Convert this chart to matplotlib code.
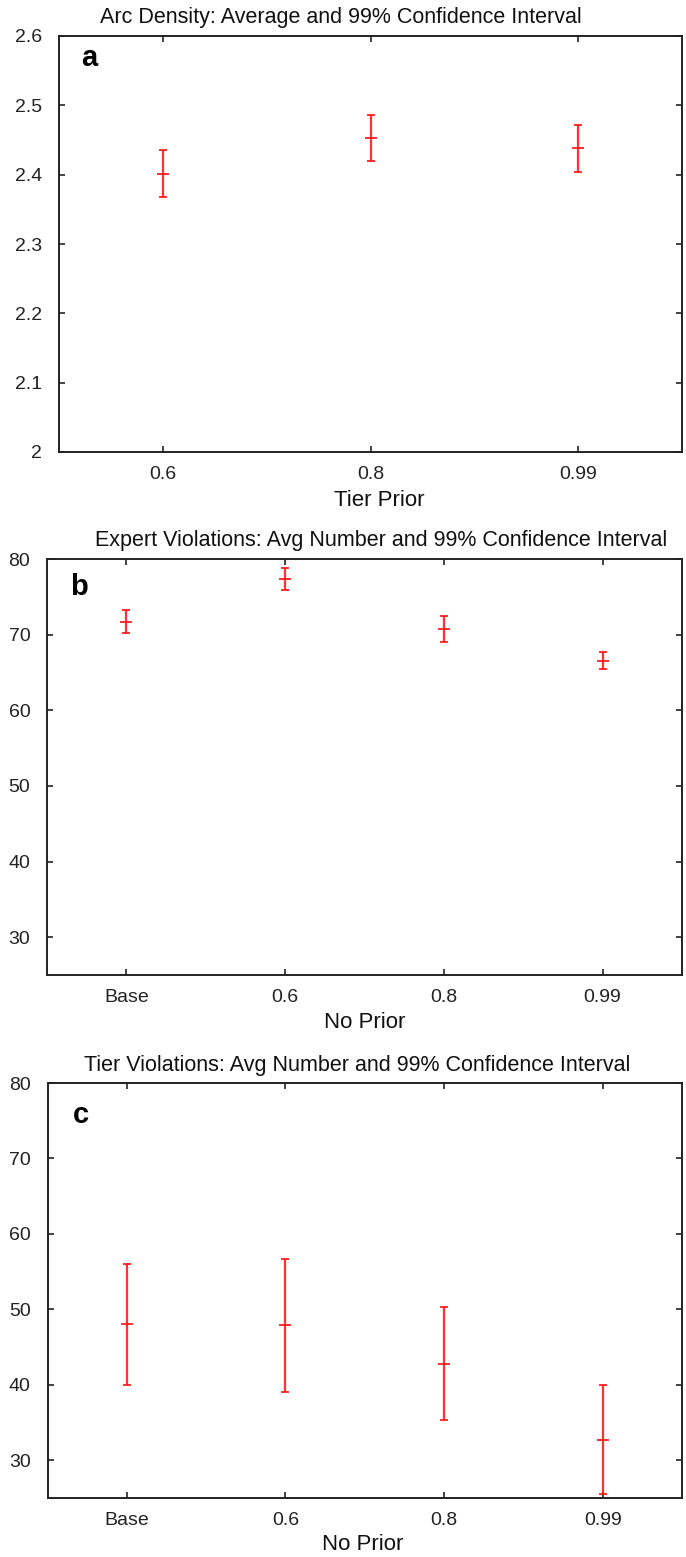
import matplotlib
matplotlib.use("Agg")
import matplotlib.pyplot as plt
import numpy as np

plt.rcParams['font.family'] = ['Liberation Sans', 'DejaVu Sans']

# panel a: arc density
a_labels = ['0.6', '0.8', '0.99']
a_mean = [2.401, 2.453, 2.438]
a_low = [2.368, 2.419, 2.404]
a_high = [2.435, 2.486, 2.472]

# panel b: expert violations
b_labels = ['Base', '0.6', '0.8', '0.99']
b_mean = [71.7, 77.4, 70.75, 66.55]
b_low = [70.2, 75.9, 69.0, 65.45]
b_high = [73.25, 78.8, 72.45, 67.65]

# panel c: tier violations
c_labels = ['Base', '0.6', '0.8', '0.99']
c_mean = [48.05, 47.9, 42.8, 32.75]
c_low = [40.0, 39.1, 35.4, 25.5]
c_high = [56.05, 56.7, 50.25, 40.0]

W, H = 686, 1557
fig = plt.figure(figsize=(W / 100, H / 100), dpi=100)


def panel(rect, labels, mean, low, high, ylim, yticks, ytl, title, title_xy,
          xlabel, xlabel_xy, letter, letter_xy):
    ax = fig.add_axes(rect)
    x = np.arange(1, len(labels) + 1)
    mean = np.array(mean)
    err = [mean - np.array(low), np.array(high) - mean]
    ax.errorbar(x, mean, yerr=err, fmt='_', color='#ff1a1a', ms=9, mew=1.4,
                elinewidth=1.6, capsize=3, capthick=1.4, alpha=0.9)
    ax.set_xlim(0.5, len(labels) + 0.5)
    ax.set_ylim(*ylim)
    ax.set_xticks(x)
    ax.set_xticklabels(labels)
    ax.set_yticks(yticks)
    ax.set_yticklabels(ytl)
    ax.tick_params(direction='in', length=4, width=1.2, top=True, right=True,
                   labelsize=14, colors='#222222', pad=12)
    ax.tick_params(axis='x', pad=10)
    for s in ax.spines.values():
        s.set_linewidth(1.4)
        s.set_color('#222222')
    ax.text(letter_xy[0], letter_xy[1], letter, transform=ax.transAxes,
            fontsize=21, fontweight='bold', va='center', ha='left')
    fig.text(title_xy[0] / W, 1 - title_xy[1] / H, title, ha='center',
             va='center', fontsize=15.5, color='#111111')
    fig.text(xlabel_xy[0] / W, 1 - xlabel_xy[1] / H, xlabel, ha='center',
             va='center', fontsize=16, color='#111111')
    return ax


panel([59 / W, 1 - 452 / H, 623 / W, 416 / H], a_labels, a_mean, a_low, a_high,
      (2.0, 2.6), [2.0, 2.1, 2.2, 2.3, 2.4, 2.5, 2.6],
      ['2', '2.1', '2.2', '2.3', '2.4', '2.5', '2.6'],
      'Arc Density: Average and 99% Confidence Interval', (341, 18),
      'Tier Prior', (379, 500), 'a', (0.035, 0.946))

panel([47 / W, 1 - 975 / H, 635 / W, 416 / H], b_labels, b_mean, b_low, b_high,
      (25, 80), [30, 40, 50, 60, 70, 80], ['30', '40', '50', '60', '70', '80'],
      'Expert Violations: Avg Number and 99% Confidence Interval', (381, 540),
      'No Prior', (365, 1022), 'b', (0.036, 0.933))

panel([47.5 / W, 1 - 1498 / H, 634.5 / W, 415 / H], c_labels, c_mean, c_low,
      c_high, (25, 80), [30, 40, 50, 60, 70, 80],
      ['30', '40', '50', '60', '70', '80'],
      'Tier Violations: Avg Number and 99% Confidence Interval', (357, 1065),
      'No Prior', (363, 1545), 'c', (0.04, 0.922))

fig.savefig('out.png', dpi=100)
